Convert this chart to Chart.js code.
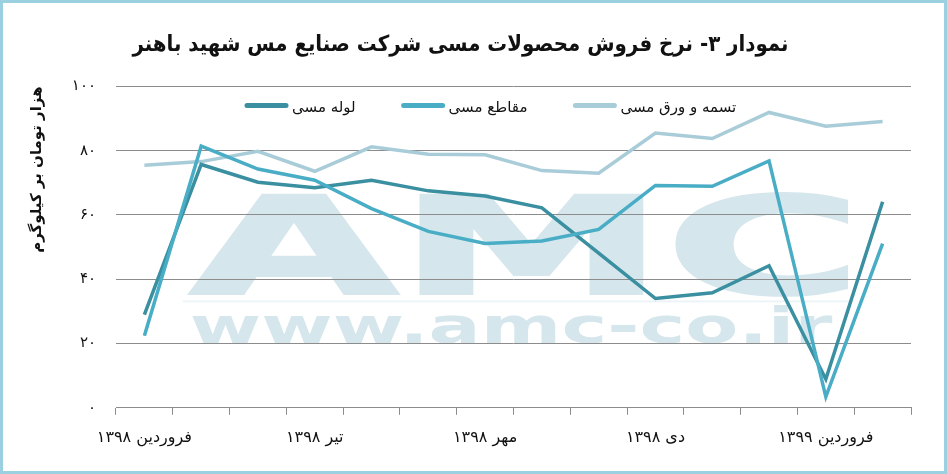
<!DOCTYPE html>
<html lang="fa">
<head>
<meta charset="utf-8">
<script src="https://cdn.jsdelivr.net/npm/chart.js@4.4.1/dist/chart.umd.min.js"></script>
<style>
  html, body { margin: 0; padding: 0; background: #fff; }
  #wrap { position: relative; width: 947px; height: 474px; }
  #frame { position: absolute; left: 0; top: 0; width: 947px; height: 474px;
           box-sizing: border-box; border: 3px solid #9bd0e0;
           pointer-events: none; }
  canvas { position: absolute; left: 0; top: 0; }
</style>
</head>
<body>
<div id="wrap">
  <canvas id="chart" width="947" height="474"></canvas>
  <div id="frame"></div>
</div>
<script>
const months = ['فروردین ۱۳۹۸', 'اردیبهشت ۱۳۹۸', 'خرداد ۱۳۹۸', 'تیر ۱۳۹۸', 'مرداد ۱۳۹۸', 'شهریور ۱۳۹۸',
                'مهر ۱۳۹۸', 'آبان ۱۳۹۸', 'آذر ۱۳۹۸', 'دی ۱۳۹۸', 'بهمن ۱۳۹۸', 'اسفند ۱۳۹۸',
                'فروردین ۱۳۹۹', 'اردیبهشت ۱۳۹۹'];

// هزار تومان بر کیلوگرم
const pipe     = [29.0, 75.7, 70.2, 68.5, 70.8, 67.5, 65.9, 62.2, 48.1, 34.0, 35.8, 44.2, 8.9, 64.1];
const sections = [22.4, 81.4, 74.3, 70.8, 62.0, 54.9, 51.1, 51.9, 55.5, 69.2, 68.9, 76.8, 3.4, 51.1];
const strip    = [75.5, 76.6, 79.8, 73.6, 81.2, 78.9, 78.7, 73.8, 73.0, 85.5, 83.8, 91.9, 87.6, 89.1];

const seriesNames = ['لوله مسی', 'مقاطع مسی', 'تسمه و ورق مسی'];
const yTicks = [0, 20, 40, 60, 80, 100];

const FONT = "'DejaVu Sans', sans-serif";
const faDigits = '۰۱۲۳۴۵۶۷۸۹';
function fa(n) {
  return String(n).replace(/\d/g, d => faDigits[d]);
}

// background watermark
const watermark = {
  id: 'watermark',
  beforeDraw(chart) {
    const ctx = chart.ctx;
    const ca = chart.chartArea;
    ctx.save();
    ctx.fillStyle = '#d5e6ec';
    ctx.strokeStyle = '#d5e6ec';
    ctx.lineJoin = 'miter';

    ctx.font = "bold 100px 'DejaVu Sans', sans-serif";
    let m = ctx.measureText('AMC');
    let w = m.actualBoundingBoxLeft + m.actualBoundingBoxRight;
    let sx = 655 / w, sy = 101 / m.actualBoundingBoxAscent;
    ctx.save();
    ctx.translate(ca.left + 74 + m.actualBoundingBoxLeft * sx, ca.top + 207);
    ctx.scale(sx, sy);
    ctx.lineWidth = 6 / sx;
    ctx.fillText('AMC', 0, 0);
    ctx.strokeText('AMC', 0, 0);
    ctx.restore();

    ctx.fillStyle = '#edf4f7';
    ctx.fillRect(ca.left + 67, ca.top + 214, 669, 2);

    ctx.fillStyle = '#d5e6ec';
    m = ctx.measureText('www.amc-co.ir');
    const mw = ctx.measureText('w');
    w = m.actualBoundingBoxLeft + m.actualBoundingBoxRight;
    sx = 641 / w; sy = 27 / mw.actualBoundingBoxAscent;
    ctx.save();
    ctx.translate(ca.left + 76 + m.actualBoundingBoxLeft * sx, ca.top + 257);
    ctx.scale(sx, sy);
    ctx.fillText('www.amc-co.ir', 0, 0);
    ctx.restore();
    ctx.restore();
  }
};

// legend drawn inside the plot area
const innerLegend = {
  id: 'innerLegend',
  afterDraw(chart) {
    const ctx = chart.ctx;
    const ca = chart.chartArea;
    ctx.save();
    ctx.font = '15px ' + FONT;
    ctx.textBaseline = 'middle';
    ctx.textAlign = 'left';
    let x = ca.left + 129;
    const y = ca.top + 22;
    chart.data.datasets.forEach(ds => {
      ctx.strokeStyle = ds.borderColor;
      ctx.lineWidth = 5;
      ctx.lineCap = 'round';
      ctx.beginPath();
      ctx.moveTo(x + 2, y - 3);
      ctx.lineTo(x + 41, y - 3);
      ctx.stroke();
      ctx.fillStyle = '#111';
      ctx.fillText(ds.label, x + 47, y);
      x += 47 + ctx.measureText(ds.label).width + 46;
    });
    ctx.restore();
  }
};

new Chart(document.getElementById('chart'), {
  type: 'line',
  data: {
    labels: months,
    datasets: [
      { label: seriesNames[0], data: pipe, borderColor: '#3a8fa0', order: 2 },
      { label: seriesNames[1], data: sections, borderColor: '#49adc6', order: 1 },
      { label: seriesNames[2], data: strip, borderColor: '#a9ccd9', order: 3 }
    ]
  },
  options: {
    responsive: false,
    animation: false,
    devicePixelRatio: 1,
    layout: { padding: { top: 8, left: 10, right: 36, bottom: 14 } },
    elements: {
      line: { borderWidth: 3.5, tension: 0, fill: false },
      point: { radius: 0, hoverRadius: 0 }
    },
    plugins: {
      legend: { display: false },
      tooltip: { enabled: false },
      title: {
        display: true,
        text: 'نمودار ۳- نرخ فروش محصولات مسی شرکت صنایع مس شهید باهنر',
        color: '#111',
        font: { family: "'DejaVu Sans Condensed', 'DejaVu Sans', sans-serif", size: 22, weight: 'bold' },
        padding: { top: 24, bottom: 28 }
      }
    },
    scales: {
      x: {
        offset: true,
        grid: { drawOnChartArea: false, drawTicks: true, tickLength: 7, color: '#8c8c8c', offset: true },
        border: { display: true, color: '#8c8c8c' },
        ticks: {
          autoSkip: false, maxRotation: 0, padding: 13, color: '#111',
          font: { family: FONT, size: 16 },
          callback: (v, i) => (i % 3 === 0 ? months[i] : '')
        }
      },
      y: {
        min: 0, max: 100,
        afterFit: scale => { scale.width = 106; },
        afterBuildTicks: scale => { scale.ticks = yTicks.map(v => ({ value: v })); },
        grid: { drawTicks: false, color: '#8c8c8c' },
        border: { display: false },
        title: {
          display: true, align: 'end', text: 'هزار تومان بر کیلوگرم', color: '#111',
          font: { family: FONT, size: 15, weight: 'bold' },
          padding: { top: 18, bottom: 0 }
        },
        ticks: {
          padding: 20, color: '#111',
          font: { family: FONT, size: 15 },
          callback: v => fa(v)
        }
      }
    }
  },
  plugins: [watermark, innerLegend]
});
</script>
</body>
</html>
